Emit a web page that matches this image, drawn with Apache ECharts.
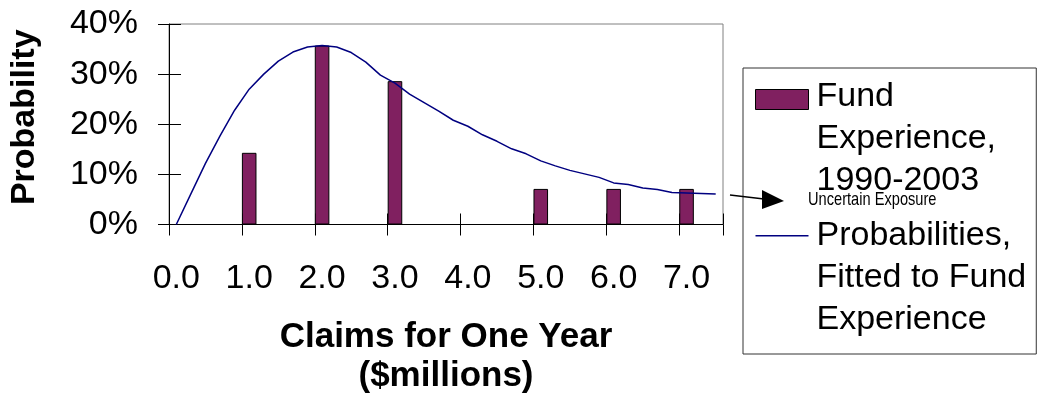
<!DOCTYPE html>
<html>
<head>
<meta charset="utf-8">
<script src="https://cdn.jsdelivr.net/npm/echarts@6/dist/echarts.min.js"></script>
<style>
    html, body { margin: 0; padding: 0; background: #fff; }
    #chart { width: 1038px; height: 406px; }
</style>
</head>
<body>
<div id="chart"></div>
<script>
// claims in $millions, one category every 0.2
const claimCategories = [
    '0.0', '0.2', '0.4', '0.6', '0.8', '1.0', '1.2', '1.4', '1.6', '1.8',
    '2.0', '2.2', '2.4', '2.6', '2.8', '3.0', '3.2', '3.4', '3.6', '3.8',
    '4.0', '4.2', '4.4', '4.6', '4.8', '5.0', '5.2', '5.4', '5.6', '5.8',
    '6.0', '6.2', '6.4', '6.6', '6.8', '7.0', '7.2', '7.4'
];

// observed years, 1990-2003
const fundClaims = ['1.0', '2.0', '3.0', '5.0', '6.0', '7.0'];
const fundShares = [0.143, 0.357, 0.286, 0.071, 0.071, 0.071];

// fitted distribution
const fittedShares = [
    0.000, 0.061, 0.122, 0.177, 0.228, 0.270, 0.300, 0.326, 0.344, 0.354,
    0.357, 0.354, 0.343, 0.324, 0.298, 0.282, 0.260, 0.243, 0.226, 0.208,
    0.196, 0.179, 0.166, 0.151, 0.141, 0.127, 0.117, 0.108, 0.101, 0.094,
    0.083, 0.080, 0.073, 0.070, 0.064, 0.063, 0.062, 0.061
];

const FONT = 'Liberation Sans, Arial, sans-serif';
const BAR_NAME = 'Fund\nExperience,\n1990-2003';
const LINE_NAME = 'Probabilities,\nFitted to Fund\nExperience';

const chart = echarts.init(document.getElementById('chart'));

const option = {
    animation: false,
    backgroundColor: '#fff',
    textStyle: { fontFamily: FONT, color: '#000' },
    grid: {
        left: 169,
        right: 315,
        top: 24,
        bottom: 181.5,
        show: true,
        borderColor: '#808080',
        borderWidth: 1,
        backgroundColor: 'transparent'
    },
    xAxis: [
        {
            type: 'category',
            data: claimCategories,
            position: 'bottom',
            name: 'Claims for One Year\n($millions)',
            nameLocation: 'middle',
            nameGap: 93,
            nameTextStyle: { fontFamily: FONT, fontSize: 35, fontWeight: 'bold', color: '#000', lineHeight: 39 },
            axisLine: { show: true, lineStyle: { color: '#000', width: 1 } },
            axisTick: { show: true, interval: 4, length: 11, lineStyle: { color: '#000' } },
            axisLabel: { interval: 4, fontSize: 34, fontFamily: FONT, color: '#000', margin: 37 },
            splitLine: { show: false }
        },
        {
            // inner half of the crossing ticks
            type: 'category',
            data: claimCategories,
            position: 'bottom',
            axisLine: { show: false },
            axisTick: { show: true, inside: true, interval: 4, length: 11, lineStyle: { color: '#000' } },
            axisLabel: { show: false },
            splitLine: { show: false }
        }
    ],
    yAxis: [
        {
            type: 'value',
            min: 0,
            max: 0.4,
            interval: 0.1,
            position: 'left',
            name: 'Probability',
            nameLocation: 'middle',
            nameGap: 127,
            nameTextStyle: { fontFamily: FONT, fontSize: 34, fontWeight: 'bold', color: '#000', padding: [0, 0, 0, 14] },
            axisLine: { show: true, lineStyle: { color: '#000', width: 1 } },
            axisTick: { show: true, length: 11, lineStyle: { color: '#000' } },
            axisLabel: {
                fontSize: 34,
                fontFamily: FONT,
                color: '#000',
                margin: 31,
                formatter: v => Math.round(v * 100) + '%'
            },
            splitLine: { show: false }
        },
        {
            type: 'value',
            min: 0,
            max: 0.4,
            interval: 0.1,
            position: 'left',
            axisLine: { show: false },
            axisTick: { show: true, inside: true, length: 12, lineStyle: { color: '#000' } },
            axisLabel: { show: false },
            splitLine: { show: false }
        }
    ],
    legend: {
        orient: 'vertical',
        left: 743,
        top: 68,
        padding: [7, 10, 13, 12],
        itemGap: 13,
        itemWidth: 53,
        itemHeight: 126,
        borderColor: '#333',
        borderWidth: 1,
        backgroundColor: '#fff',
        textStyle: { fontFamily: FONT, fontSize: 34, color: '#000', lineHeight: 42, padding: [0, 0, 0, 3] },
        data: [
            {
                name: BAR_NAME,
                icon: 'path://M0,0M53,126M0,14h53v20h-53z',
                itemStyle: { color: '#802060', borderColor: '#000', borderWidth: 1 }
            },
            {
                name: LINE_NAME,
                icon: 'path://M0,0M53,126M0,20h53v1.5h-53z',
                itemStyle: { color: '#000080', borderWidth: 0 }
            }
        ]
    },
    series: [
        {
            name: BAR_NAME,
            type: 'bar',
            xAxisIndex: 0,
            yAxisIndex: 0,
            barWidth: '100%',
            itemStyle: { color: '#802060', borderColor: '#000', borderWidth: 1 },
            data: fundClaims.map((c, i) => [c, fundShares[i]]),
            z: 2
        },
        {
            name: LINE_NAME,
            type: 'line',
            xAxisIndex: 0,
            yAxisIndex: 0,
            showSymbol: false,
            symbol: 'none',
            smooth: false,
            lineStyle: { color: '#000080', width: 1.5 },
            itemStyle: { color: '#000080' },
            data: fittedShares,
            z: 3
        }
    ],
    graphic: [
        {
            type: 'line',
            shape: { x1: 730, y1: 195, x2: 764, y2: 199 },
            style: { stroke: '#000', lineWidth: 1.5 },
            z: 100
        },
        {
            type: 'polygon',
            shape: { points: [[762, 190], [784, 201], [762, 209]] },
            style: { fill: '#000' },
            z: 100
        },
        {
            // condensed label next to the arrow
            type: 'text',
            x: 808,
            y: 200,
            scaleX: 0.77,
            style: {
                text: 'Uncertain Exposure',
                font: '19px ' + FONT,
                fill: '#000',
                align: 'left',
                verticalAlign: 'middle'
            },
            z: 100
        }
    ]
};

chart.setOption(option);
window.addEventListener('resize', () => chart.resize());
</script>
</body>
</html>
